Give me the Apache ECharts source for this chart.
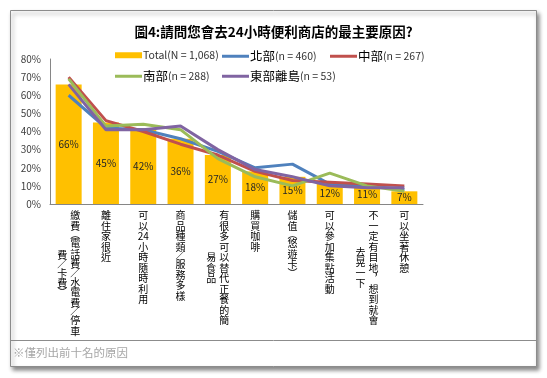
<!DOCTYPE html>
<html><head><meta charset="utf-8">
<script src="https://cdn.jsdelivr.net/npm/echarts@6/dist/echarts.min.js"></script>
<style>html,body{margin:0;background:#fff}#c{width:547px;height:378px}</style>
</head><body><div id="c"></div>
<script>
const titleText = '圖4:請問您會去24小時便利商店的最主要原因?';
const footnote = '※僅列出前十名的原因';
const categories = ['繳費(電話費/水電費/停車費/卡費)', '離住家很近', '可以24小時隨時利用', '商品種類/服務多樣', '有很多可以替代正餐的簡易食品', '購買咖啡', '儲值(悠遊卡)', '可以參加集點活動', '不一定有目地，想到就會去晃一下', '可以坐著休憩'];
const seriesNames = ['Total(N = 1,068)', '北部(n = 460)', '中部(n = 267)', '南部(n = 288)', '東部離島(n = 53)'];
const totalValues = [66, 45, 42, 36, 27, 18, 15, 12, 11, 7];
const northValues = [60, 42, 41, 36, 29, 20, 22, 11, 10, 8];
const centralValues = [70, 46, 40, 33, 27, 18, 13, 12, 11, 10];
const southValues = [69, 43, 44, 41, 25, 15, 10, 17, 10, 7];
const eastValues = [66, 41, 41, 43, 30, 19, 15, 10, 9, 9];
const yMin = 0, yMax = 80, yStep = 10;

const FONT = '"Noto Sans CJK TC", "Noto Sans CJK SC", sans-serif';
const ROW = 10.5, PROW = 7;
const VFORM = {'(': '︵', ')': '︶', '/': '／', '，': '︐'};
function tokens(s) {
  const out = []; let i = 0;
  while (i < s.length) {
    const ch = s[i];
    if (/[0-9]/.test(ch)) {
      let j = i; while (j < s.length && /[0-9]/.test(s[j])) j++;
      out.push({t: s.slice(i, j), w: 0.5 * (j - i), p: false}); i = j;
    } else {
      const narrow = '()/'.includes(ch);
      out.push({t: VFORM[ch] || ch, w: narrow ? 0.5 : 1, p: narrow}); i++;
    }
  }
  return out;
}
function splitCols(s) {
  const tk = tokens(s); let sum = 0, k = 0;
  while (k < tk.length && sum + tk[k].w <= 11.5) { sum += tk[k].w; k++; }
  return [tk.slice(0, k), tk.slice(k)];
}
const cols = categories.map(splitCols);
const colH = c => c.reduce((a, t) => a + (t.p ? PROW : ROW), 0);

const richBase = {fontSize: 10, fontFamily: FONT, color: '#000'};
const rich1 = {
  c: Object.assign({}, richBase, {lineHeight: ROW}),
  p: Object.assign({}, richBase, {lineHeight: PROW}),
  cs: Object.assign({}, richBase, {lineHeight: ROW, padding: [0, 0, 0, 13]}),
  ps: Object.assign({}, richBase, {lineHeight: PROW, padding: [0, 0, 0, 13]})
};
const rich2 = {
  c: Object.assign({}, richBase, {lineHeight: ROW, padding: [0, 13, 0, 0]}),
  p: Object.assign({}, richBase, {lineHeight: PROW, padding: [0, 13, 0, 0]})
};
cols.forEach((c, i) => {
  const off = c[1].length ? Math.max(1, (colH(c[0]) - colH(c[1])) / 2) : 1;
  rich2['o' + i] = Object.assign({}, richBase, {lineHeight: off, fontSize: 1});
});
function fmt1(v, i) {
  const c = cols[i], two = c[1].length > 0;
  return c[0].map(t => '{' + (t.p ? 'p' : 'c') + (two ? 's' : '') + '|' + t.t + '}').join('\n');
}
function fmt2(v, i) {
  const c = cols[i];
  if (!c[1].length) return '';
  return '{o' + i + '| }\n' + c[1].map(t => '{' + (t.p ? 'p' : 'c') + '|' + t.t + '}').join('\n');
}

const lineColors = ['#4F81BD', '#C0504D', '#9BBB59', '#8064A2'];
const lineData = [northValues, centralValues, southValues, eastValues];

function legendRich(name) {
  const i = name.indexOf('(');
  const head = name.slice(0, i), tail = name.slice(i);
  const headStyle = /^[A-Za-z]/.test(head) ? 'b' : 'a';
  return '{' + headStyle + '|' + head + '}{b|' + tail + '}';
}
const legRich = {
  a: {fontSize: 12.5, fontFamily: FONT, color: '#000'},
  b: {fontSize: 10.5, fontFamily: FONT, color: '#333'}
};
function mkLegend(name, left, top, h) {
  return {
    data: [{name: name, icon: 'rect'}], left: left, top: top, padding: 0,
    itemWidth: 27, itemHeight: h, itemGap: 0,
    formatter: legendRich, textStyle: {rich: legRich, padding: [0, 0, 0, -4]},
    selectedMode: false
  };
}

const chart = echarts.init(document.getElementById('c'));
chart.setOption({
  animation: false,
  backgroundColor: '#fff',
  title: {text: titleText, left: 'center', top: 20,
    textStyle: {fontSize: 13.5, fontWeight: 'bold', color: '#000', fontFamily: FONT}},
  graphic: [
    {type: 'rect', z: -10, shape: {x: 10.5, y: 10.5, width: 526, height: 356},
      style: {fill: '#fff', stroke: '#8c8c8c', lineWidth: 1, shadowBlur: 4, shadowOffsetX: 2, shadowOffsetY: 3, shadowColor: 'rgba(0,0,0,0.45)'}},
    {type: 'line', z: -9, shape: {x1: 10.5, y1: 340.5, x2: 536.5, y2: 340.5}, style: {stroke: '#8c8c8c', lineWidth: 1}},
    {type: 'text', z: -8, left: 13, top: 347, style: {text: footnote, fontSize: 11.5, fontFamily: FONT, fill: '#a6a6a6'}}
  ],
  legend: [
    mkLegend(seriesNames[0], 115, 50, 6),
    mkLegend(seriesNames[1], 222, 50, 3),
    mkLegend(seriesNames[2], 330, 50, 3),
    mkLegend(seriesNames[3], 115, 70, 3),
    mkLegend(seriesNames[4], 222, 70, 3)
  ],
  grid: {left: 50, right: 124, top: 59, bottom: 174, containLabel: false, outerBoundsMode: 'none'},
  xAxis: [
    {type: 'category', data: categories, position: 'bottom',
      axisLine: {onZero: false, lineStyle: {color: '#868686', width: 1}}, axisTick: {show: false},
      axisLabel: {interval: 0, margin: 6, hideOverlap: false, formatter: fmt1, rich: rich1}},
    {type: 'category', data: categories, position: 'bottom',
      axisLine: {show: false}, axisTick: {show: false}, splitLine: {show: false},
      axisLabel: {interval: 0, margin: 6, hideOverlap: false, formatter: fmt2, rich: rich2}}
  ],
  yAxis: {type: 'value', min: yMin, max: yMax, interval: yStep,
    axisLine: {show: true, lineStyle: {color: '#868686', width: 1}}, axisTick: {show: false},
    splitLine: {show: false},
    axisLabel: {formatter: '{value}%', fontSize: 10, color: '#404040', margin: 9, fontFamily: FONT}},
  series: [
    {name: seriesNames[0], type: 'bar', data: totalValues, barWidth: 26, xAxisIndex: 0,
      itemStyle: {color: '#FFC000'},
      label: {show: true, position: 'inside', formatter: '{c}%', fontSize: 10, color: '#262626', fontFamily: FONT}}
  ].concat(lineData.map((d, k) => ({
    name: seriesNames[k + 1], type: 'line', data: d, xAxisIndex: 0, showSymbol: false, symbol: 'none', z: 3,
    lineStyle: {color: lineColors[k], width: 3}, itemStyle: {color: lineColors[k]}
  })))
});
</script></body></html>
